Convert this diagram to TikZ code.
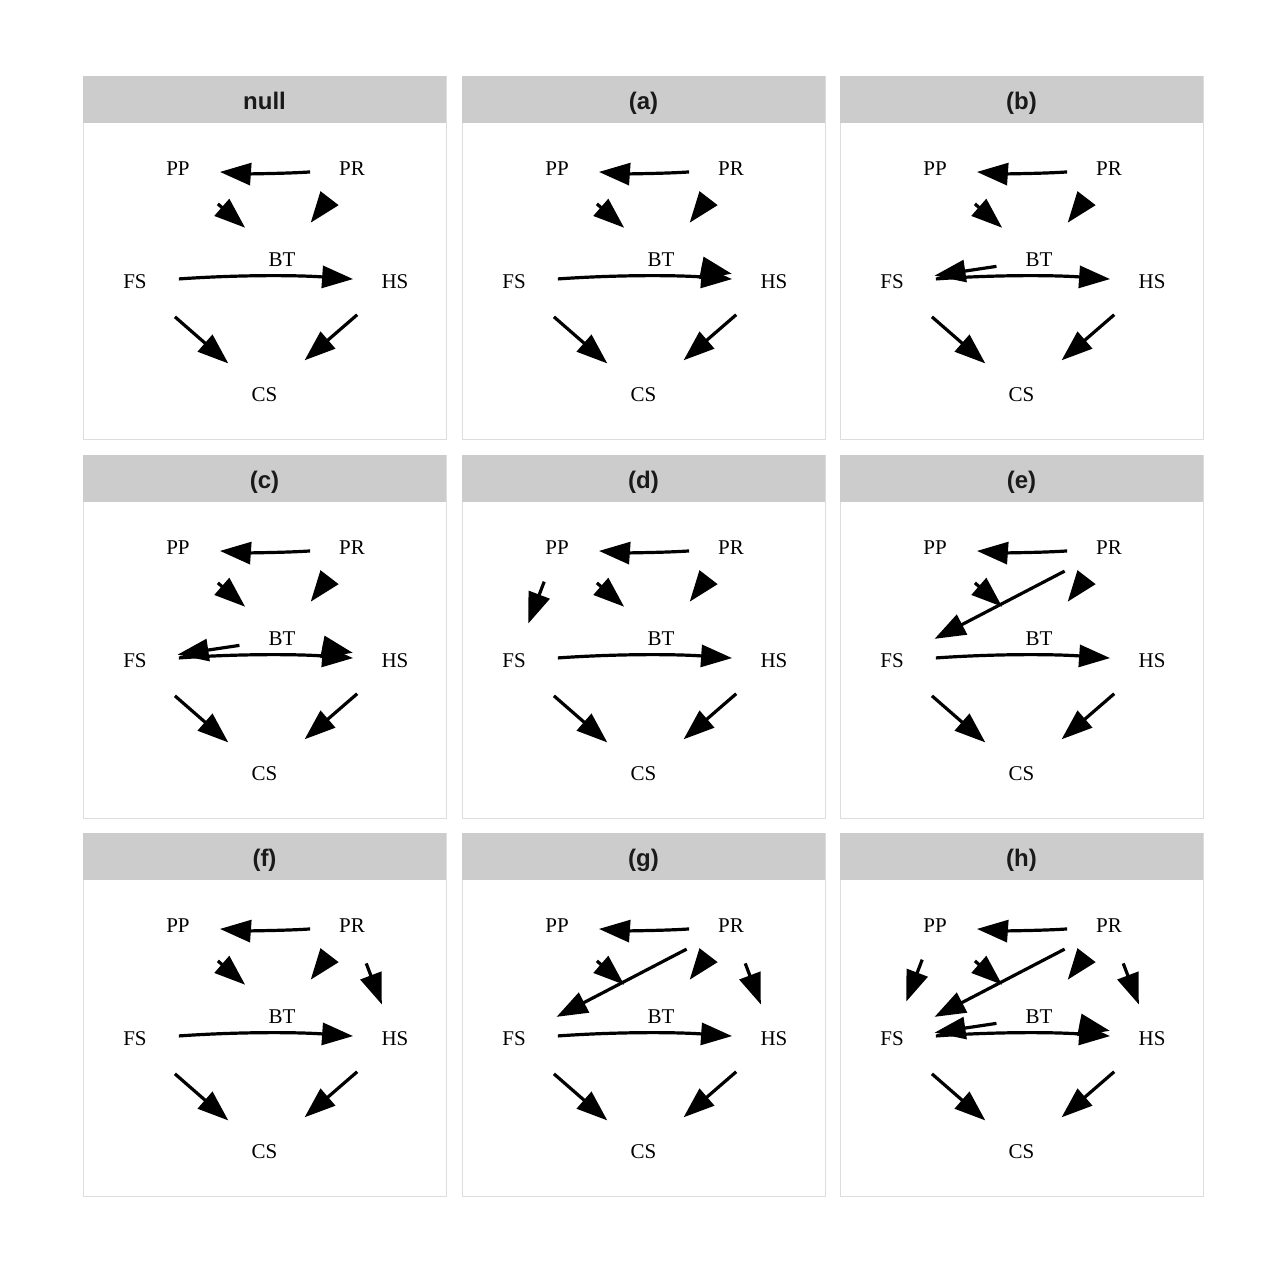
\documentclass[tikz,border=0pt]{standalone}
\usepackage{fontspec}
\setmainfont{Liberation Serif}
\newfontfamily\titlefont{Liberation Sans}
\usetikzlibrary{arrows.meta}
\definecolor{stripgray}{HTML}{CCCCCC}
\definecolor{bordergray}{HTML}{DDDDDD}
\definecolor{titletext}{HTML}{1A1A1A}
\tikzset{
  lab/.style={inner sep=0pt, font=\fontsize{21}{21}\selectfont},
  ttl/.style={inner sep=0pt, anchor=base, text=titletext, font=\titlefont\bfseries\fontsize{24}{24}\selectfont},
  edge/.style={line width=3.2pt, -{Triangle[length=31pt,width=22pt]}},
  frame/.style={draw=bordergray, line width=1pt},
}
\newcommand\dagedge[5][]{\draw[edge,shorten <=#4pt,shorten >=#5pt] (#2.center) to[#1] (#3.center);}
\newcommand\dagpanel[5]{%
  \begin{scope}[shift={(#1,#2)}, name prefix=#3-]
    \draw[frame] (83,-76) rectangle (446,-439);
    \fill[stripgray] (83,-76) rectangle (446,-123);
    \node[ttl] (title) at (264.5,-109) {#4};
    \node[lab] (PP) at (178,-169) {PP};
    \node[lab] (PR) at (352,-169) {PR};
    \node[lab] (BT) at (282,-260) {BT};
    \node[lab] (FS) at (135,-282) {FS};
    \node[lab] (HS) at (395,-282) {HS};
    \node[lab] (CS) at (264.5,-395) {CS};
    \dagedge[bend left=4]{PR}{PP}{42}{42}
    \dagedge{PP}{BT}{53}{49}
    \dagedge{PR}{BT}{40}{47}
    \dagedge[bend left=4]{FS}{HS}{44}{42}
    \dagedge{FS}{CS}{53}{48}
    \dagedge{HS}{CS}{50}{53}
    #5
  \end{scope}}
\begin{document}
\begin{tikzpicture}[x=1pt,y=1pt]
  \useasboundingbox (0,0) rectangle (1280,-1280);
  \fill[white] (0,0) rectangle (1280,-1280);
  \dagpanel{0}{0}{n}{null}{}
  \dagpanel{379}{0}{a}{(a)}{\dagedge{BT}{HS}{43}{43}}
  \dagpanel{757}{0}{b}{(b)}{\dagedge{BT}{FS}{43}{43}}
  \dagpanel{0}{-379}{c}{(c)}{\dagedge{BT}{FS}{43}{43}\dagedge{BT}{HS}{43}{43}}
  \dagpanel{379}{-379}{d}{(d)}{\dagedge{PP}{FS}{36}{40}}
  \dagpanel{757}{-379}{e}{(e)}{\dagedge{PR}{FS}{50}{48}}
  \dagpanel{0}{-757}{f}{(f)}{\dagedge{PR}{HS}{40}{37}}
  \dagpanel{379}{-757}{g}{(g)}{\dagedge{PR}{FS}{50}{48}\dagedge{PR}{HS}{40}{37}}
  \dagpanel{757}{-757}{h}{(h)}{\dagedge{PP}{FS}{36}{40}\dagedge{PR}{FS}{50}{48}\dagedge{PR}{HS}{40}{37}\dagedge{BT}{FS}{43}{43}\dagedge{BT}{HS}{43}{43}}
\end{tikzpicture}
\end{document}
